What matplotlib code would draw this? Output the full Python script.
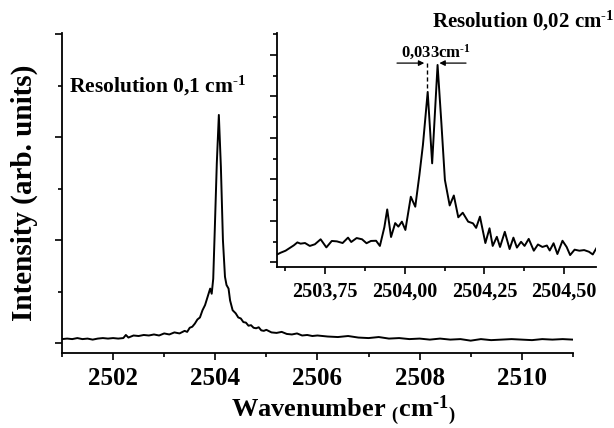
import matplotlib
matplotlib.use('Agg')
import matplotlib.pyplot as plt
from matplotlib.ticker import MultipleLocator

# main spectrum (wavenumber, intensity in arb. units)
main_wn = [2501.00, 2501.10, 2501.20, 2501.30, 2501.40, 2501.50, 2501.60, 2501.70, 2501.80, 2501.90,
           2502.00, 2502.10, 2502.20, 2502.25, 2502.30, 2502.40, 2502.50, 2502.60, 2502.70, 2502.80,
           2502.90, 2503.00, 2503.10, 2503.20, 2503.30, 2503.40, 2503.45, 2503.50, 2503.55, 2503.60,
           2503.65, 2503.70, 2503.75, 2503.80, 2503.85, 2503.90, 2503.93, 2503.96, 2503.99, 2504.03,
           2504.07, 2504.11, 2504.15, 2504.19, 2504.22, 2504.26, 2504.29, 2504.34, 2504.40, 2504.45,
           2504.50, 2504.55, 2504.60, 2504.65, 2504.70, 2504.75, 2504.80, 2504.85, 2504.90, 2504.95,
           2505.00, 2505.10, 2505.20, 2505.30, 2505.40, 2505.50, 2505.60, 2505.70, 2505.80, 2505.90,
           2506.00, 2506.20, 2506.40, 2506.60, 2506.80, 2507.00, 2507.20, 2507.40, 2507.60, 2507.80,
           2508.00, 2508.20, 2508.40, 2508.60, 2508.80, 2509.00, 2509.20, 2509.40, 2509.60, 2509.80,
           2510.00, 2510.20, 2510.40, 2510.60, 2510.80, 2511.00]
main_int = [0.08, 0.09, 0.08, 0.10, 0.08, 0.09, 0.07, 0.09, 0.10, 0.09,
            0.10, 0.09, 0.10, 0.16, 0.11, 0.15, 0.14, 0.16, 0.15, 0.17,
            0.15, 0.19, 0.17, 0.21, 0.19, 0.24, 0.22, 0.30, 0.32, 0.38,
            0.46, 0.50, 0.64, 0.74, 0.90, 1.06, 0.96, 1.25, 2.19, 3.49,
            4.43, 3.42, 2.00, 1.29, 1.13, 1.06, 0.83, 0.64, 0.58, 0.50,
            0.48, 0.41, 0.40, 0.34, 0.35, 0.30, 0.29, 0.31, 0.25, 0.24,
            0.26, 0.21, 0.20, 0.22, 0.18, 0.17, 0.19, 0.15, 0.16, 0.14,
            0.15, 0.13, 0.12, 0.14, 0.11, 0.10, 0.12, 0.09, 0.10, 0.08,
            0.09, 0.07, 0.09, 0.07, 0.08, 0.05, 0.08, 0.06, 0.07, 0.08,
            0.07, 0.06, 0.08, 0.07, 0.08, 0.07]

# high resolution inset
inset_wn = [2503.596, 2503.610, 2503.626, 2503.642, 2503.652, 2503.663, 2503.673, 2503.687, 2503.702, 2503.718,
            2503.736, 2503.754, 2503.771, 2503.787, 2503.805, 2503.822, 2503.832, 2503.849, 2503.866, 2503.880,
            2503.894, 2503.910, 2503.922, 2503.936, 2503.945, 2503.957, 2503.970, 2503.980, 2503.991, 2504.002,
            2504.019, 2504.033, 2504.046, 2504.057, 2504.072, 2504.086, 2504.103, 2504.115, 2504.126, 2504.141,
            2504.154, 2504.168, 2504.182, 2504.199, 2504.214, 2504.224, 2504.236, 2504.253, 2504.266, 2504.276,
            2504.289, 2504.299, 2504.314, 2504.329, 2504.341, 2504.352, 2504.365, 2504.376, 2504.389, 2504.405,
            2504.418, 2504.432, 2504.446, 2504.455, 2504.467, 2504.479, 2504.495, 2504.508, 2504.519, 2504.533,
            2504.548, 2504.563, 2504.578, 2504.590, 2504.601]
inset_int = [0.35, 0.46, 0.56, 0.72, 0.82, 0.96, 0.90, 0.93, 0.79, 0.87,
             1.11, 0.72, 1.03, 1.01, 0.93, 1.19, 0.98, 1.17, 1.11, 0.92,
             1.03, 1.04, 0.79, 1.69, 2.55, 1.22, 1.89, 1.72, 1.96, 1.56,
             3.16, 2.68, 4.21, 5.65, 8.21, 4.77, 9.51, 6.70, 3.97, 2.74,
             3.22, 2.17, 2.39, 1.96, 1.88, 1.66, 2.20, 0.93, 1.64, 0.79,
             1.23, 0.74, 1.47, 0.64, 1.19, 0.71, 0.99, 0.79, 1.13, 0.56,
             0.86, 0.74, 0.81, 0.57, 0.92, 0.40, 1.04, 0.74, 0.35, 0.61,
             0.56, 0.59, 0.51, 0.38, 0.67]

main_ticks = [2502, 2504, 2506, 2508, 2510]
inset_ticks = [2503.75, 2504.00, 2504.25, 2504.50]
inset_labels = ['2503,75', '2504,00', '2504,25', '2504,50']

# doublet marker
left_peak = 2504.070
right_peak = 2504.100

plt.rcParams['font.family'] = 'Liberation Serif'
plt.rcParams['font.weight'] = 'bold'
plt.rcParams['axes.labelweight'] = 'bold'
plt.rcParams['mathtext.fontset'] = 'custom'
plt.rcParams['mathtext.rm'] = 'Liberation Serif:bold'
plt.rcParams['mathtext.it'] = 'Liberation Serif:bold'
plt.rcParams['mathtext.bf'] = 'Liberation Serif:bold'
plt.rcParams['mathtext.default'] = 'rm'

SUP = r'$^{\text{-}1}$'

fig = plt.figure(figsize=(6.14, 4.28), dpi=100)

# Main plot
ax = fig.add_axes([0.101, 0.1752, 0.832, 0.7477])
ax.plot(main_wn, main_int, color='black', lw=1.4)
ax.set_xlim(2501, 2511)
ax.set_ylim(-0.19, 6.02)
ax.spines['top'].set_visible(False)
ax.spines['right'].set_visible(False)
for s in ['left', 'bottom']:
    ax.spines[s].set_linewidth(1.3)
ax.set_xticks(main_ticks)
ax.xaxis.set_minor_locator(MultipleLocator(1))
ax.yaxis.set_major_locator(MultipleLocator(2))
ax.yaxis.set_minor_locator(MultipleLocator(1))
ax.set_yticklabels([])
ax.tick_params(which='major', direction='out', length=5, width=1.2, labelsize=18, pad=5)
ax.tick_params(which='minor', direction='out', length=3, width=1.2)
ax.set_xlabel('Wavenumber $_{(}$cm' + SUP + '$_{)}$', fontsize=19, labelpad=3, x=0.55)
ax.set_ylabel('Intensity (arb. units)', fontsize=21, labelpad=7)
ax.text(2501.14, 4.86, 'Resolution 0,1 cm' + SUP, fontsize=15.5)

# Inset
ins = fig.add_axes([0.4516, 0.3769, 0.519, 0.546])
ins.plot(inset_wn, inset_int, color='black', lw=1.4)
ins.set_xlim(2503.6, 2504.6)
ins.set_ylim(-0.21, 11.05)
ins.spines['top'].set_visible(False)
ins.spines['right'].set_visible(False)
for s in ['left', 'bottom']:
    ins.spines[s].set_linewidth(1.3)
ins.set_xticks(inset_ticks)
ins.set_xticklabels(inset_labels)
ins.xaxis.set_minor_locator(MultipleLocator(0.125))
ins.yaxis.set_major_locator(MultipleLocator(2))
ins.yaxis.set_minor_locator(MultipleLocator(1))
ins.set_yticklabels([])
ins.tick_params(which='major', direction='out', length=5, width=1.2, labelsize=14.5, pad=6)
ins.tick_params(which='minor', direction='out', length=3, width=1.2)

ins.annotate('', xy=(left_peak, 9.6), xytext=(2503.967, 9.6),
             arrowprops=dict(arrowstyle='-|>', color='black', lw=0.9, mutation_scale=8))
ins.annotate('', xy=(right_peak, 9.6), xytext=(2504.201, 9.6),
             arrowprops=dict(arrowstyle='-|>', color='black', lw=0.9, mutation_scale=8))
ins.plot([left_peak, left_peak], [9.6, 8.3], color='black', lw=1.0, ls=(0, (3, 2)))
ins.text(2504.097, 9.85, '0,033cm' + SUP, fontsize=12, ha='center')
fig.text(1.0, 0.935, 'Resolution 0,02 cm' + SUP, fontsize=15, ha='right')

fig.savefig('out.png', dpi=100)
